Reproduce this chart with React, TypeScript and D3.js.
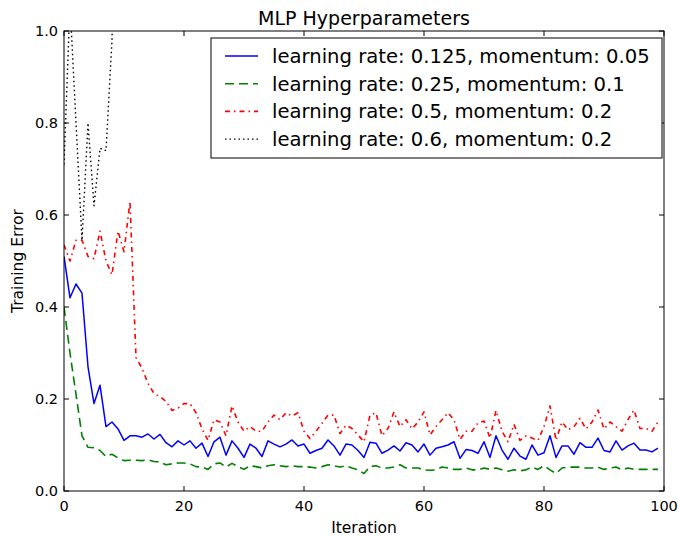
import { useEffect, useRef } from "react";
import * as d3 from "d3";

// training error per iteration
const blueErr = [
  0.51, 0.42, 0.45, 0.43, 0.27, 0.19, 0.23, 0.14, 0.15, 0.135,
  0.11, 0.12, 0.12, 0.117, 0.124, 0.113, 0.123, 0.105, 0.096, 0.109,
  0.1, 0.109, 0.093, 0.104, 0.075, 0.107, 0.117, 0.078, 0.109, 0.093,
  0.073, 0.102, 0.093, 0.075, 0.109, 0.102, 0.096, 0.102, 0.111, 0.098,
  0.102, 0.082, 0.088, 0.093, 0.111, 0.098, 0.078, 0.102, 0.1, 0.088,
  0.073, 0.106, 0.104, 0.082, 0.089, 0.098, 0.087, 0.105, 0.1, 0.085,
  0.102, 0.078, 0.093, 0.096, 0.1, 0.107, 0.071, 0.09, 0.088, 0.082,
  0.107, 0.073, 0.12, 0.089, 0.069, 0.093, 0.076, 0.069, 0.1, 0.078,
  0.083, 0.12, 0.073, 0.098, 0.098, 0.08, 0.105, 0.095, 0.095, 0.115,
  0.088, 0.085, 0.109, 0.089, 0.098, 0.104, 0.089, 0.089, 0.085, 0.093,
];

const greenErr = [
  0.4, 0.3, 0.21, 0.12, 0.095, 0.094, 0.088, 0.075, 0.08, 0.072,
  0.066, 0.067, 0.067, 0.066, 0.068, 0.064, 0.063, 0.057, 0.059, 0.061,
  0.061, 0.059, 0.053, 0.052, 0.047, 0.059, 0.061, 0.052, 0.06, 0.053,
  0.047, 0.055, 0.053, 0.05, 0.055, 0.057, 0.055, 0.053, 0.055, 0.053,
  0.053, 0.052, 0.05, 0.053, 0.057, 0.055, 0.052, 0.055, 0.05, 0.046,
  0.038, 0.053, 0.055, 0.05, 0.05, 0.052, 0.057, 0.05, 0.05, 0.05,
  0.046, 0.045, 0.046, 0.052, 0.05, 0.047, 0.047, 0.05, 0.046, 0.046,
  0.05, 0.047, 0.05, 0.046, 0.043, 0.046, 0.044, 0.046, 0.052, 0.047,
  0.055, 0.046, 0.038, 0.05, 0.052, 0.052, 0.052, 0.05, 0.05, 0.052,
  0.047, 0.05, 0.052, 0.046, 0.05, 0.047, 0.047, 0.047, 0.047, 0.047,
];

const redErr = [
  0.535, 0.5, 0.545, 0.545, 0.51, 0.505, 0.565, 0.5, 0.47, 0.565,
  0.52, 0.63, 0.29, 0.267, 0.234, 0.212, 0.205, 0.195, 0.175, 0.18,
  0.19, 0.19, 0.17, 0.135, 0.11, 0.155, 0.15, 0.12, 0.185, 0.15,
  0.13, 0.14, 0.13, 0.13, 0.15, 0.165, 0.155, 0.17, 0.163, 0.17,
  0.13, 0.114, 0.13, 0.147, 0.165, 0.165, 0.125, 0.143, 0.136, 0.122,
  0.107, 0.165, 0.17, 0.12, 0.136, 0.172, 0.14, 0.155, 0.135, 0.15,
  0.172, 0.122, 0.14, 0.155, 0.17, 0.155, 0.112, 0.13, 0.13, 0.148,
  0.152, 0.115, 0.175, 0.13, 0.107, 0.145, 0.11, 0.12, 0.115, 0.11,
  0.14, 0.185, 0.11, 0.15, 0.133, 0.14, 0.158, 0.135, 0.15, 0.176,
  0.135, 0.15, 0.14, 0.13, 0.155, 0.176, 0.136, 0.136, 0.13, 0.15,
];

// diverges after a few iterations, only the visible start is kept
const blackErr = [0.71, 1.06, 0.8, 0.545, 0.8, 0.62, 0.745, 0.74, 0.98, 1.6];

const seriesLabels = [
  "learning rate: 0.125, momentum: 0.05",
  "learning rate: 0.25, momentum: 0.1",
  "learning rate: 0.5, momentum: 0.2",
  "learning rate: 0.6, momentum: 0.2",
];

const xTicks = [0, 20, 40, 60, 80, 100];
const yTicks = [0, 0.2, 0.4, 0.6, 0.8, 1.0];

const W = 678;
const H = 538;
const margin = { top: 31, right: 14, bottom: 47, left: 64 };
const FONT = "DejaVu Sans, sans-serif";

const App = () => {
  const svgRef = useRef<SVGSVGElement | null>(null);

  useEffect(() => {
    if (!svgRef.current) return;
    const svg = d3.select(svgRef.current);
    svg.selectAll("*").remove();

    const x0 = margin.left;
    const x1 = W - margin.right;
    const y0 = H - margin.bottom;
    const y1 = margin.top;

    const x = d3.scaleLinear().domain([0, 100]).range([x0, x1]);
    const y = d3.scaleLinear().domain([0, 1]).range([y0, y1]);

    svg
      .append("rect")
      .attr("width", W)
      .attr("height", H)
      .attr("fill", "white");

    svg
      .append("defs")
      .append("clipPath")
      .attr("id", "plot-clip")
      .append("rect")
      .attr("x", x0)
      .attr("y", y1)
      .attr("width", x1 - x0)
      .attr("height", y0 - y1);

    const series = [
      { data: blueErr, color: "#0000ff", dash: null, width: 1.5 },
      { data: greenErr, color: "#008000", dash: "9,5", width: 1.6 },
      { data: redErr, color: "#ff0000", dash: "5,4,1.5,4", width: 1.6 },
      { data: blackErr, color: "#000000", dash: "1.5,3", width: 1.4 },
    ];

    const line = d3
      .line<number>()
      .x((_, i) => x(i))
      .y((d) => y(d));

    const plot = svg.append("g").attr("clip-path", "url(#plot-clip)");
    series.forEach((s) => {
      plot
        .append("path")
        .datum(s.data)
        .attr("d", line)
        .attr("fill", "none")
        .attr("stroke", s.color)
        .attr("stroke-width", s.width)
        .attr("stroke-dasharray", s.dash)
        .attr("stroke-linejoin", "round");
    });

    // frame
    svg
      .append("rect")
      .attr("x", x0)
      .attr("y", y1)
      .attr("width", x1 - x0)
      .attr("height", y0 - y1)
      .attr("fill", "none")
      .attr("stroke", "black")
      .attr("stroke-width", 1);

    // inward ticks on all four sides
    const tickLen = 5;
    const ticks = svg.append("g").attr("stroke", "black").attr("stroke-width", 1);
    xTicks.forEach((t) => {
      ticks.append("line").attr("x1", x(t)).attr("x2", x(t)).attr("y1", y0).attr("y2", y0 - tickLen);
      ticks.append("line").attr("x1", x(t)).attr("x2", x(t)).attr("y1", y1).attr("y2", y1 + tickLen);
    });
    yTicks.forEach((t) => {
      ticks.append("line").attr("x1", x0).attr("x2", x0 + tickLen).attr("y1", y(t)).attr("y2", y(t));
      ticks.append("line").attr("x1", x1).attr("x2", x1 - tickLen).attr("y1", y(t)).attr("y2", y(t));
    });

    const labels = svg
      .append("g")
      .attr("font-family", FONT)
      .attr("fill", "black");

    labels
      .selectAll("text.xt")
      .data(xTicks)
      .enter()
      .append("text")
      .attr("x", (d) => x(d))
      .attr("y", y0 + 20)
      .attr("text-anchor", "middle")
      .attr("font-size", 14.5)
      .text((d) => d3.format("d")(d));

    labels
      .selectAll("text.yt")
      .data(yTicks)
      .enter()
      .append("text")
      .attr("x", x0 - 6)
      .attr("y", (d) => y(d) + 5)
      .attr("text-anchor", "end")
      .attr("font-size", 14.5)
      .text((d) => d3.format(".1f")(d));

    labels
      .append("text")
      .attr("x", (x0 + x1) / 2)
      .attr("y", H - 5)
      .attr("text-anchor", "middle")
      .attr("font-size", 15.5)
      .text("Iteration");

    labels
      .append("text")
      .attr("transform", `translate(23,${(y0 + y1) / 2}) rotate(-90)`)
      .attr("text-anchor", "middle")
      .attr("font-size", 15.5)
      .text("Training Error");

    labels
      .append("text")
      .attr("x", (x0 + x1) / 2)
      .attr("y", 25)
      .attr("text-anchor", "middle")
      .attr("font-size", 19)
      .text("MLP Hyperparameters");

    // legend
    const legend = svg.append("g");
    legend
      .append("rect")
      .attr("x", 211)
      .attr("y", 38)
      .attr("width", 451)
      .attr("height", 120)
      .attr("fill", "white")
      .attr("stroke", "black")
      .attr("stroke-width", 1);

    series.forEach((s, i) => {
      const cy = 56 + i * 27.7;
      legend
        .append("line")
        .attr("x1", 225)
        .attr("x2", 258)
        .attr("y1", cy)
        .attr("y2", cy)
        .attr("stroke", s.color)
        .attr("stroke-width", s.width)
        .attr("stroke-dasharray", s.dash);
      legend
        .append("text")
        .attr("x", 272)
        .attr("y", cy + 7)
        .attr("font-family", FONT)
        .attr("font-size", 19.6)
        .text(seriesLabels[i]);
    });
  }, []);

  return (
    <div style={{ position: "absolute", left: 0, top: 0 }}>
      <svg ref={svgRef} width={W} height={H} style={{ display: "block" }} />
    </div>
  );
};

export default App;
